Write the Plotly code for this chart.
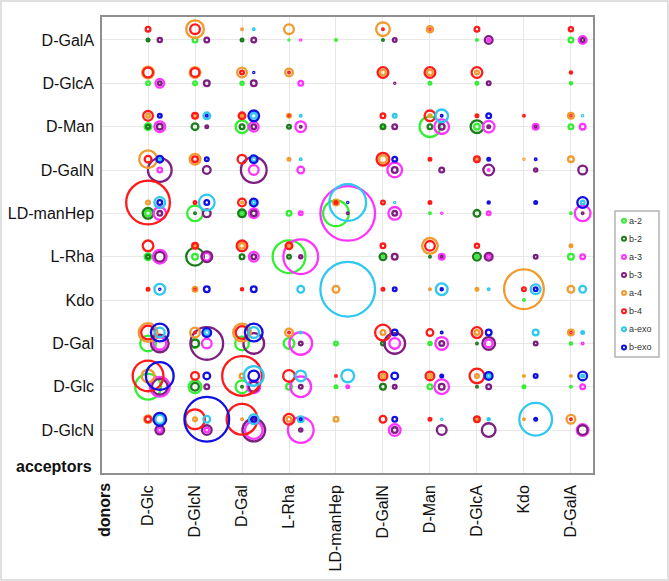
import plotly.graph_objects as go

# glycosidic linkages: donors on x, acceptors on y
donors = ['D-Glc', 'D-GlcN', 'D-Gal', 'L-Rha', 'LD-manHep', 'D-GalN', 'D-Man', 'D-GlcA', 'Kdo', 'D-GalA']
acceptors = ['D-GalA', 'D-GlcA', 'D-Man', 'D-GalN', 'LD-manHep', 'L-Rha', 'Kdo', 'D-Gal', 'D-Glc', 'D-GlcN']

linkages = ['a-2', 'b-2', 'a-3', 'b-3', 'a-4', 'b-4', 'a-exo', 'b-exo']
colors = ['#33ee33', '#1a7d1a', '#ff33ff', '#7d1f80', '#f29a2e', '#ff1a1a', '#2ec8f0', '#1010e0']

# relative counts, one row per acceptor (top to bottom), one column per donor
a_2 = [
    [0, 7, 0, 3.5, 4, 0, 0, 4, 0, 7],
    [6, 6, 5.5, 0, 0, 0, 5, 5, 0, 4.5],
    [9, 0, 15, 0, 0, 4, 23, 8, 0, 7],
    [0, 0, 0, 0, 0, 0, 0, 0, 0, 0],
    [8, 18, 6, 7, 28, 0, 4, 0, 0, 4],
    [9, 8, 0, 35, 0, 4, 0, 5, 0, 8],
    [0, 0, 0, 0, 0, 0, 0, 0, 4, 0],
    [18, 11, 16, 13, 6, 0, 5.5, 0, 0, 4.5],
    [28, 15, 15, 8, 5, 0, 7, 0, 5, 4],
    [0, 0, 0, 0, 0, 0, 0, 0, 0, 0],
]
b_2 = [
    [5, 0, 5, 0, 0, 4, 0, 0, 0, 0],
    [0, 0, 0, 0, 0, 0, 0, 0, 0, 0],
    [6, 9, 7, 6, 0, 7, 7, 15, 0, 0],
    [0, 0, 0, 0, 0, 0, 0, 0, 0, 0],
    [13, 4, 10, 0, 0, 0, 0, 9, 0, 0],
    [6, 20, 7, 6, 0, 9, 4, 10, 0, 0],
    [0, 0, 0, 0, 0, 0, 0, 0, 0, 0],
    [0, 10, 0, 0, 0, 6, 0, 4, 0, 0],
    [0, 10, 4, 0, 0, 8, 0, 4, 0, 0],
    [0, 0, 0, 0, 0, 0, 0, 0, 0, 0],
]
a_3 = [
    [0, 0, 0, 3.5, 0, 0, 0, 5, 0, 10],
    [11, 0, 0, 7, 0, 0, 0, 0, 0, 0],
    [13, 0, 12, 13, 0, 0, 17, 14, 8, 8],
    [7, 0, 12, 9, 0, 17, 0, 4, 0, 0],
    [15, 0, 12, 6, 57, 15, 3.5, 6, 0, 18],
    [16, 10, 12, 37, 0, 0, 8, 6, 0, 7],
    [0, 0, 0, 0, 0, 0, 0, 0, 0, 0],
    [15, 12, 0, 25, 0, 13, 15, 10, 0, 4],
    [22, 0, 15, 23, 5, 0, 17, 0, 0, 7],
    [7, 7, 20, 28, 0, 14, 0, 0, 0, 14],
]
b_3 = [
    [6.5, 7, 7, 0, 0, 6, 0, 10, 0, 6],
    [6, 8, 8, 0, 0, 3.5, 0, 6, 0, 0],
    [8, 5, 7, 4, 0, 7, 8, 5, 4, 0],
    [26, 10, 28, 0, 0, 8, 7, 13, 5.5, 11],
    [7, 10, 8, 0, 4, 7, 0, 0, 0, 4],
    [12, 13, 7, 5.5, 0, 8, 4, 10, 6, 0],
    [0, 0, 0, 0, 0, 0, 0, 0, 0, 0],
    [20, 35, 23, 6, 0, 23, 7, 15, 6, 0],
    [18, 7, 12, 6, 0, 6, 8, 7, 0, 0],
    [11, 12, 25, 5.5, 0, 8, 12, 16, 0, 12],
]
a_4 = [
    [0, 20, 4, 12, 0, 16, 8.5, 0, 0, 0],
    [14, 13, 12, 10, 0, 8, 8, 6, 0, 0],
    [6, 3, 5, 6, 0, 0, 5, 0, 0, 8],
    [20, 13, 0, 5, 0, 10, 0, 4, 3.5, 8],
    [6, 0, 4, 0, 8, 0, 0, 0, 0, 0],
    [0, 5, 8, 6, 0, 0, 18, 0, 0, 5],
    [0, 7, 0, 0, 9, 0, 4, 5, 42, 9],
    [21, 12, 20, 10, 0, 7, 0, 7, 0, 8],
    [15, 0, 7, 0, 0, 6, 6, 6, 4, 4],
    [10, 6, 4, 7, 7, 0, 0, 5, 4, 11],
]
b_4 = [
    [7, 12, 0, 0, 0, 4, 3, 7, 0, 6.5],
    [12, 11, 6, 4, 0, 13, 13, 13, 0, 4.5],
    [12, 8, 9, 3, 0, 7, 13, 5, 4, 3.5],
    [9, 8, 11, 0, 0, 15, 5, 8, 0, 0],
    [46, 5, 10, 0, 5, 6, 5, 0, 0, 0],
    [13, 8, 13, 9, 0, 7, 12, 6.5, 0, 0],
    [5, 3, 4.5, 0, 0, 5, 0, 0, 6, 0],
    [16, 4, 15, 4, 0, 18, 9, 13, 0, 3.5],
    [33, 10, 42, 14, 4, 11, 11, 17, 0, 0],
    [8, 22, 33, 13, 0, 9, 5, 8, 0, 4],
]
a_exo = [
    [0, 0, 4, 0, 0, 0, 0, 0, 0, 0],
    [0, 0, 0, 0, 0, 0, 0, 0, 0, 0],
    [0, 9, 8, 4, 0, 6, 15, 0, 0, 3.5],
    [6, 0, 7, 4, 0, 0, 0, 0, 0, 0],
    [13, 18, 6, 0, 39, 3.5, 0, 0, 0, 6],
    [0, 0, 0, 0, 0, 0, 0, 0, 0, 0],
    [13, 0, 0, 9, 57, 0, 14, 4, 12, 9],
    [12, 7, 13, 4, 0, 0, 0, 0, 8, 5],
    [0, 0, 22, 13, 15, 0, 0, 6, 0, 5],
    [11, 9, 12, 8, 0, 0, 3.5, 4.5, 35, 0],
]
b_exo = [
    [0, 0, 0, 0, 0, 0, 0, 0, 0, 0],
    [0, 0, 3.5, 0, 0, 0, 0, 0, 0, 0],
    [6, 4, 13, 0, 0, 0, 4, 7, 0, 0],
    [9, 6, 10, 0, 0, 7, 0, 5, 4, 0],
    [7, 7, 10, 0, 3.5, 0, 0, 4.5, 5, 13],
    [0, 0, 0, 0, 0, 0, 0, 0, 0, 0],
    [3.5, 8, 8, 0, 0, 6, 4.5, 0, 6, 0],
    [20, 11, 20, 0, 0, 8, 4, 8, 0, 0],
    [30, 9, 13, 0, 0, 9, 5, 10, 6, 11],
    [15, 47, 7, 4, 0, 7, 0, 0, 5, 0],
]

series = [a_2, b_2, a_3, b_3, a_4, b_4, a_exo, b_exo]
# each linkage position sits in a quadrant of its cell (2 -> low left, 3 -> low right, 4 -> up left, exo -> up right)
shift_x = [0, 0, 0.25, 0.25, 0, 0, 0.25, 0.25]
shift_y = [0, 0, 0, 0, 0.25, 0.25, 0.25, 0.25]

LW = 2.3
FONT = 'Liberation Sans, Arial, sans-serif'

# plot area in pixels
L, T, PW, PH = 102, 17, 491, 456
def px_x(p):
    return (p - L) / PW
def px_y(p):
    return (T + PH - p) / PH

fig = go.Figure()
n_acc = len(acceptors)
for k, name in enumerate(linkages):
    xs, ys, ss = [], [], []
    for i, row in enumerate(series[k]):
        for j, v in enumerate(row):
            if v > 0:
                xs.append(j + shift_x[k])
                ys.append(n_acc - 1 - i + shift_y[k])
                ss.append(max(v - LW, 1.2))
    fig.add_trace(go.Scatter(
        x=xs, y=ys, mode='markers', name=name, showlegend=False,
        marker=dict(symbol='circle-open', size=ss, color=colors[k], opacity=1,
                    line=dict(width=LW, color=colors[k]))
    ))

fig.update_xaxes(
    range=[-0.98, 9.47], tickmode='array', tickvals=list(range(len(donors))), ticktext=donors,
    tickangle=-90, tickfont=dict(family=FONT, size=16, color='#111'), ticklabelstandoff=4,
    showgrid=True, gridcolor='#e8e8e8', gridwidth=1, zeroline=False, automargin=False,
    showline=True, linecolor='#8f8f8f', linewidth=1.5, mirror=True,
)
fig.update_yaxes(
    range=[-0.99, 9.53], tickmode='array', tickvals=[n_acc - 1 - i for i in range(n_acc)], ticktext=acceptors,
    tickfont=dict(family=FONT, size=16, color='#111'), ticklabelstandoff=3,
    showgrid=True, gridcolor='#e8e8e8', gridwidth=1, zeroline=False, automargin=False,
    showline=True, linecolor='#8f8f8f', linewidth=1.5, mirror=True,
)

shapes = [
    # page frame
    dict(type='rect', xref='paper', yref='paper', x0=px_x(1), x1=px_x(668), y0=px_y(580), y1=px_y(1),
         line=dict(color='#d6d6d6', width=1.5)),
    # legend frame
    dict(type='rect', xref='paper', yref='paper', x0=px_x(615), x1=px_x(659), y0=px_y(357), y1=px_y(211),
         line=dict(color='#b4b4b4', width=1.5), fillcolor='white'),
]
annotations = [
    dict(text='<b>acceptors</b>', xref='paper', yref='paper', x=px_x(94), y=px_y(466),
         xanchor='right', yanchor='middle', showarrow=False, font=dict(family=FONT, size=16, color='#111')),
    dict(text='<b>donors</b>', xref='paper', yref='paper', x=px_x(104), y=px_y(481),
         xanchor='center', yanchor='top', textangle=-90, showarrow=False,
         font=dict(family=FONT, size=16, color='#111')),
]
for k, name in enumerate(linkages):
    yk = px_y(220.7 + 18.1 * k)
    shapes.append(dict(type='circle', xref='paper', yref='paper', xsizemode='pixel', ysizemode='pixel',
                       xanchor=px_x(624), yanchor=yk, x0=-2, x1=2, y0=-2, y1=2,
                       line=dict(color=colors[k], width=2)))
    annotations.append(dict(text=name, xref='paper', yref='paper', x=px_x(627), y=yk,
                            xanchor='left', yanchor='middle', showarrow=False,
                            font=dict(family=FONT, size=9, color='#333')))

fig.update_layout(
    width=669, height=581,
    margin=dict(l=L, r=669 - L - PW, t=T, b=581 - T - PH),
    plot_bgcolor='white', paper_bgcolor='white',
    showlegend=False, shapes=shapes, annotations=annotations,
)

# drop the default page margin so the figure sits at the window corner
fig.write_html('out.html', config={'displayModeBar': False},
               post_script="document.body.style.margin='0';")
